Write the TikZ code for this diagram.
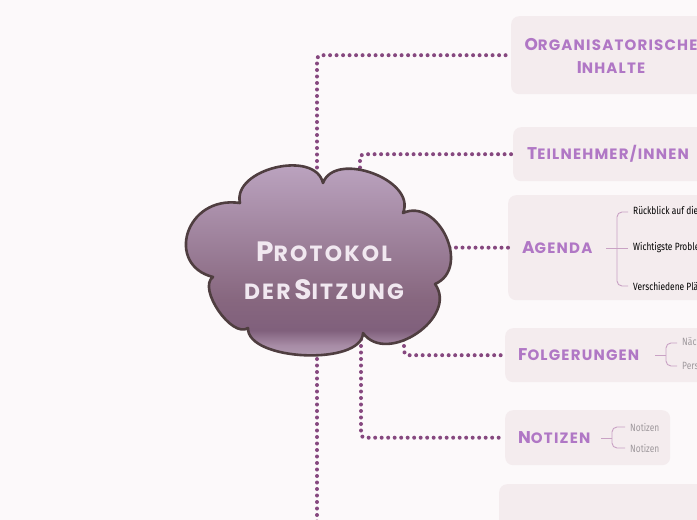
\documentclass[tikz,border=0pt]{standalone}
\usepackage{fontspec}
\usetikzlibrary{calc}
\newfontfamily\tfont{Poppins}[LetterSpace=8]
\newfontfamily\cfont{Poppins}[LetterSpace=10]
\newfontfamily\sfont{Fira Sans}[FakeStretch=0.8]
\definecolor{bgc}{HTML}{FCF9FA}
\definecolor{boxc}{HTML}{F4ECEE}
\definecolor{ttl}{HTML}{B077C5}
\definecolor{dotc}{HTML}{86487F}
\definecolor{brc}{HTML}{C9A2C4}
\definecolor{greyt}{HTML}{9E989C}
\definecolor{outl}{HTML}{4F3E40}
\definecolor{ctext}{HTML}{F1E8F0}
\definecolor{ctop}{HTML}{BBA3BF}
\definecolor{cdark}{HTML}{80607C}
\definecolor{cmid}{HTML}{87677F}
\definecolor{cband}{HTML}{A88CA6}
\definecolor{cbot}{HTML}{B39EB3}
\pgfdeclareverticalshading{cloudshade}{100bp}{color(0bp)=(cbot); color(25bp)=(cbot); color(28bp)=(cband); color(32bp)=(cdark); color(40bp)=(cmid); color(75bp)=(ctop); color(100bp)=(ctop)}
\newcommand\Bg[1]{{\fontsize{17}{18}\selectfont #1}}
\newcommand\Sm[1]{{\fontsize{15}{18}\selectfont #1}}
\newcommand\CBg[1]{{\fontsize{28}{38}\selectfont #1}}
\newcommand\CSm[1]{{\fontsize{22}{38}\selectfont #1}}
\newcommand\cloudpath{(213,277) .. controls (165,265) and (185,195) .. (240,203)
 .. controls (232,169) and (315,149) .. (323,183)
 .. controls (335,150) and (417,180) .. (403,213)
 .. controls (438,197) and (472,268) .. (435,284)
 .. controls (459,317) and (387,366) .. (363,333)
 .. controls (362,366) and (247,361) .. (248,328)
 .. controls (232,339) and (197,288) .. (213,277) -- cycle}
\begin{document}
\begin{tikzpicture}[x=1pt,y=-1pt,
  panel/.style={fill=boxc, rounded corners=8pt, inner sep=0pt, anchor=north west},
  ttlnode/.style={font=\tfont\bfseries, text=ttl, inner sep=0pt, anchor=west},
  conn/.style={draw=dotc, line width=4pt, line cap=round, dash pattern=on 0pt off 6.5pt, rounded corners=4pt},
  brl/.style={draw=brc, line width=0.9pt, rounded corners=5pt},
  subt/.style={font=\sfont\fontsize{10.5}{12}\selectfont, text=black, anchor=west, inner xsep=5pt, inner ysep=0pt},
  subg/.style={subt, text=greyt}]
\useasboundingbox (0,0) rectangle (697,520);
\clip (0,0) rectangle (697,520);
\fill[bgc] (0,0) rectangle (697,520);

% panels
\node[panel, minimum width=210pt, minimum height=78pt] (p1) at (511,16) {};
\node[panel, minimum width=210pt, minimum height=54pt] (p2) at (513,127) {};
\node[panel, minimum width=215pt, minimum height=105pt] (p3) at (508,195) {};
\node[panel, minimum width=220pt, minimum height=54pt] (p4) at (505,328) {};
\node[panel, minimum width=165pt, minimum height=55pt] (p5) at (505,410) {};
\node[panel, minimum width=230pt, minimum height=80pt] (p6) at (499,484) {};

% titles
\node[ttlnode, anchor=center, align=center, font=\tfont\bfseries\fontsize{15}{23}\selectfont] (t1) at (611,56) {\Bg{O}\Sm{RGANISATORISCHE}\\\Bg{I}\Sm{NHALTE}};
\node[ttlnode] (t2) at (527,154) {\Bg{T}\Sm{EILNEHMER/INNEN}};
\node[ttlnode] (t3) at (522,248) {\Bg{A}\Sm{GENDA}};
\node[ttlnode] (t4) at (518,355) {\Bg{F}\Sm{OLGERUNGEN}};
\node[ttlnode] (t5) at (518,438) {\Bg{N}\Sm{OTIZEN}};

% sub topics
\node[subt] (a1) at (628,212) {Rückblick auf die letzte Sitzung};
\node[subt] (a2) at (628,248) {Wichtigste Probleme};
\node[subt] (a3) at (628,286) {Verschiedene Pläne};
\node[subg] (f1) at (677,343) {Nächste Sitzung};
\node[subg] (f2) at (677,366) {Personen};
\node[subg] (n1) at (625,427) {Notizen};
\node[subg] (n2) at (625,448) {Notizen};

% brackets
\coordinate (j3s) at (606,248); \coordinate (j3) at (617,248);
\draw[brl] (j3s) -- (j3);
\draw[brl] (j3) |- (a1.west);
\draw[brl] (j3) -- (a2.west);
\draw[brl] (j3) |- (a3.west);
\coordinate (j4s) at (655,355); \coordinate (j4) at (666,355);
\draw[brl] (j4s) -- (j4);
\draw[brl] (j4) |- (f1.west);
\draw[brl] (j4) |- (f2.west);
\coordinate (j5s) at (601,438); \coordinate (j5) at (612,438);
\draw[brl] (j5s) -- (j5);
\draw[brl] (j5) |- (n1.west);
\draw[brl] (j5) |- (n2.west);

% connectors
\coordinate (s1) at (317,200);
\coordinate (s2) at (360,200);
\coordinate (s3) at (430,247.5);
\coordinate (s4) at (404,320);
\coordinate (s5) at (361,320);
\coordinate (s6) at (317,320);
\coordinate (e6) at (317,540);
\draw[conn] (s1) |- (p1.west);
\draw[conn] (s2) |- (p2.west);
\draw[conn] (s3) -- (p3.west);
\draw[conn] (s4) |- (p4.west);
\draw[conn] (s5) |- (p5.west);
\draw[conn] (s6) -- (e6);

% cloud
\begin{scope}
\clip \cloudpath;
\shade[shading=cloudshade] (184,165) rectangle (450,357);
\end{scope}
\draw[outl, line width=2.6pt, line join=round] \cloudpath;
\node[font=\cfont\bfseries\fontsize{22}{38}\selectfont, text=ctext, align=center, inner sep=0pt] (cloud) at (324,271) {\CBg{P}\CSm{ROTOKOL}\\\CSm{DER}\,\CBg{S}\CSm{ITZUNG}};
\end{tikzpicture}
\end{document}
